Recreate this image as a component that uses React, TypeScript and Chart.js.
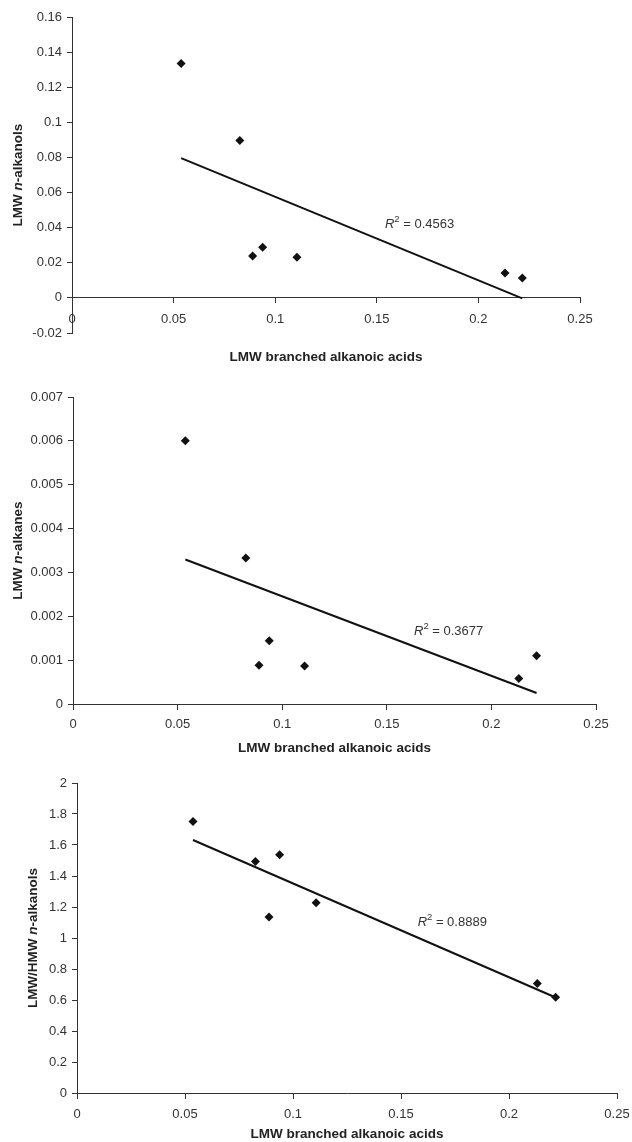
import React, { useEffect, useRef } from 'react';
import { Chart, registerables } from 'chart.js';

Chart.register(...registerables);

// ---- data ----
const branchedAcids = [0.0537, 0.0826, 0.0889, 0.0938, 0.1107, 0.2131, 0.2216];
const lmwAlkanols = [0.1335, 0.0897, 0.0238, 0.0289, 0.0232, 0.0142, 0.0113];
const lmwAlkanes = [0.006, 0.00333, 0.000886, 0.001445, 0.000864, 0.000582, 0.0011];
const lmwHmwAlkanols = [1.752, 1.493, 1.136, 1.537, 1.228, 0.707, 0.617];

const r2Values = ['0.4563', '0.3677', '0.8889'];
const xTitle = 'LMW branched alkanoic acids';
const yTitles = [
  ['LMW ', 'n', '-alkanols'],
  ['LMW ', 'n', '-alkanes'],
  ['LMW/HMW ', 'n', '-alkanols'],
];
const xMin = 0;
const xMax = 0.25;
const xStep = 0.05;
const yMins = [-0.02, 0, 0];
const yMaxs = [0.16, 0.007, 2];
const ySteps = [0.02, 0.001, 0.2];

const FONT = '"Liberation Sans", Arial, Helvetica, sans-serif';

function fit(xs: number[], ys: number[]) {
  const n = xs.length;
  const mx = xs.reduce((a, b) => a + b, 0) / n;
  const my = ys.reduce((a, b) => a + b, 0) / n;
  let sxy = 0;
  let sxx = 0;
  for (let i = 0; i < n; i++) {
    sxy += (xs[i] - mx) * (ys[i] - my);
    sxx += (xs[i] - mx) * (xs[i] - mx);
  }
  const slope = sxy / sxx;
  const icpt = my - slope * mx;
  const x0 = Math.min(...xs);
  const x1 = Math.max(...xs);
  return [
    { x: x0, y: icpt + slope * x0 },
    { x: x1, y: icpt + slope * x1 },
  ];
}

const fmt = (v: number) => String(parseFloat(Number(v).toFixed(6)));

type Layout = {
  top: number;
  height: number;
  yWidth: number;
  padTop: number;
  padRight: number;
  padBottom: number;
  yTitleX: number;
  xTitleY: number;
  xLabelPad: number;
  r2x: number;
  r2y: number;
};

const layouts: Layout[] = [
  { top: 0, height: 370, yWidth: 72, padTop: 17, padRight: 52, padBottom: 37, yTitleX: 18, xTitleY: 357, xLabelPad: 9, r2x: 0.154, r2y: 0.0421 },
  { top: 370, height: 390, yWidth: 73, padTop: 27, padRight: 36, padBottom: 56, yTitleX: 18, xTitleY: 378, xLabelPad: 8, r2x: 0.163, r2y: 0.00165 },
  { top: 760, height: 382, yWidth: 77, padTop: 23, padRight: 15, padBottom: 49, yTitleX: 33, xTitleY: 374, xLabelPad: 9, r2x: 0.1577, r2y: 1.099 },
];

function makeTextPlugin(idx: number, lay: Layout) {
  return {
    id: 'panelText' + idx,
    afterDraw(chart: any) {
      const { ctx, chartArea, scales } = chart;
      ctx.save();
      ctx.fillStyle = '#222';
      ctx.textBaseline = 'middle';
      // x title
      ctx.font = `bold 13.5px ${FONT}`;
      ctx.textAlign = 'center';
      ctx.fillText(xTitle, (chartArea.left + chartArea.right) / 2, lay.xTitleY);
      // y title (rotated, mixed style)
      ctx.save();
      ctx.translate(lay.yTitleX, (chartArea.top + chartArea.bottom) / 2);
      ctx.rotate(-Math.PI / 2);
      ctx.textAlign = 'left';
      const segs = yTitles[idx].map((t, i) => ({
        t,
        font: `${i === 1 ? 'italic ' : ''}bold 13.5px ${FONT}`,
      }));
      let total = 0;
      const widths = segs.map((s) => {
        ctx.font = s.font;
        const w = ctx.measureText(s.t).width;
        total += w;
        return w;
      });
      let cx = -total / 2;
      segs.forEach((s, i) => {
        ctx.font = s.font;
        ctx.fillText(s.t, cx, 0);
        cx += widths[i];
      });
      ctx.restore();
      // R^2 label
      const px = scales.x.getPixelForValue(lay.r2x);
      const py = scales.y.getPixelForValue(lay.r2y);
      ctx.fillStyle = '#333';
      ctx.textAlign = 'left';
      let rx = px;
      ctx.font = `italic 13px ${FONT}`;
      ctx.fillText('R', rx, py);
      rx += ctx.measureText('R').width;
      ctx.font = `9.5px ${FONT}`;
      ctx.fillText('2', rx, py - 5);
      rx += ctx.measureText('2').width;
      ctx.font = `13px ${FONT}`;
      ctx.fillText(' = ' + r2Values[idx], rx, py);
      ctx.restore();
    },
  };
}

function Panel({ idx, ys }: { idx: number; ys: number[] }) {
  const ref = useRef<HTMLCanvasElement | null>(null);
  const lay = layouts[idx];
  useEffect(() => {
    if (!ref.current) return;
    const pts = branchedAcids.map((x, i) => ({ x, y: ys[i] }));
    const chart = new Chart(ref.current, {
      type: 'scatter',
      data: {
        datasets: [
          {
            data: pts,
            pointStyle: 'rectRot',
            pointRadius: 4.5,
            pointBackgroundColor: '#111',
            pointBorderColor: '#111',
            pointBorderWidth: 0,
          } as any,
          {
            type: 'line',
            data: fit(branchedAcids, ys),
            borderColor: '#111',
            borderWidth: 2,
            pointRadius: 0,
            fill: false,
          } as any,
        ],
      },
      options: {
        animation: false,
        responsive: false,
        events: [],
        layout: {
          padding: { left: 0, top: lay.padTop, right: lay.padRight, bottom: lay.padBottom },
        },
        plugins: { legend: { display: false }, tooltip: { enabled: false } },
        scales: {
          x: {
            type: 'linear',
            position: { y: 0 } as any,
            min: xMin,
            max: xMax,
            ticks: {
              stepSize: xStep,
              color: '#333',
              font: { family: FONT, size: 13 },
              padding: lay.xLabelPad,
              maxRotation: 0,
              callback: (v: any) => fmt(v),
            },
            grid: { drawOnChartArea: false, drawTicks: true, tickLength: 5, color: '#333' },
            border: { display: true, color: '#333', width: 1 },
            afterFit: (scale: any) => {
              scale.paddingLeft = 0;
              scale.paddingRight = 0;
            },
          },
          y: {
            type: 'linear',
            position: 'left',
            min: yMins[idx],
            max: yMaxs[idx],
            ticks: {
              stepSize: ySteps[idx],
              color: '#333',
              font: { family: FONT, size: 13 },
              padding: 5,
              callback: (v: any) => fmt(v),
            },
            grid: { drawOnChartArea: false, drawTicks: true, tickLength: 5, color: '#333' },
            border: { display: true, color: '#333', width: 1 },
            afterFit: (scale: any) => {
              scale.width = lay.yWidth;
              scale.paddingTop = 0;
              scale.paddingBottom = 0;
            },
          },
        },
      },
      plugins: [makeTextPlugin(idx, lay)],
    } as any);
    return () => chart.destroy();
  }, []);
  return (
    <canvas
      ref={ref}
      width={632}
      height={lay.height}
      style={{ position: 'absolute', left: 0, top: lay.top, width: 632, height: lay.height }}
    />
  );
}

export default function App() {
  return (
    <div style={{ position: 'absolute', left: 0, top: 0, width: 632, height: 1142, background: '#fff' }}>
      <Panel idx={0} ys={lmwAlkanols} />
      <Panel idx={1} ys={lmwAlkanes} />
      <Panel idx={2} ys={lmwHmwAlkanols} />
    </div>
  );
}
